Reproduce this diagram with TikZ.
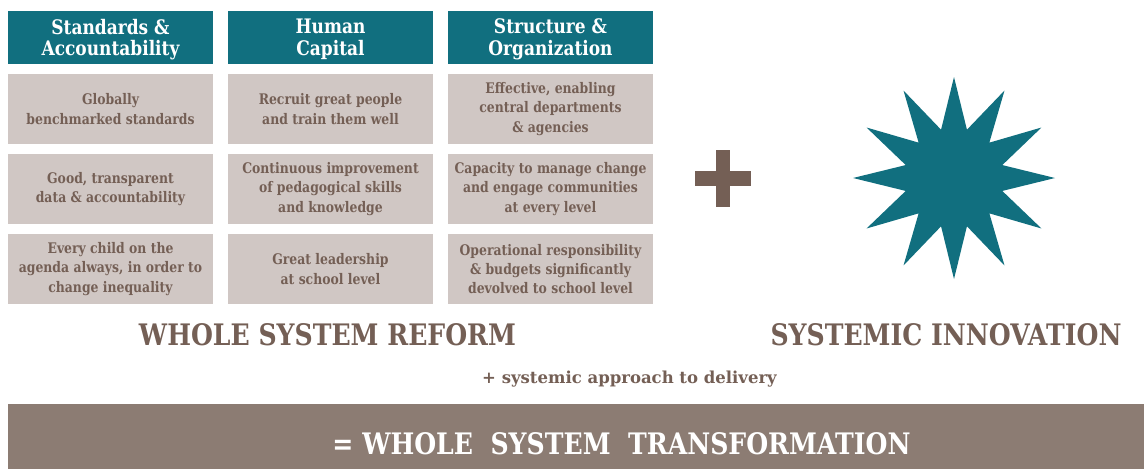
\documentclass[tikz,border=0pt]{standalone}
\usepackage{fontspec}
\setmainfont{DejaVu Serif}[FakeStretch=0.85]
\newfontfamily\widefont{DejaVu Serif}
\definecolor{teal1}{HTML}{116F7F}
\definecolor{boxgray}{HTML}{D0C7C4}
\definecolor{brown1}{HTML}{745F55}
\definecolor{band}{HTML}{8C7C73}
\tikzset{
  headbox/.style={fill=teal1, minimum width=205pt, minimum height=53pt, inner sep=0pt},
  headtext/.style={text=white, inner sep=0pt, align=center,
    font=\bfseries\fontsize{20}{21.7}\selectfont},
  item/.style={fill=boxgray, text=brown1, minimum width=205pt, minimum height=70pt, inner sep=0pt, align=center,
    font=\bfseries\fontsize{14.6}{19.3}\selectfont},
  title/.style={text=brown1, inner sep=0pt, font=\bfseries\fontsize{29.6}{34}\selectfont},
  sub/.style={text=brown1, inner sep=0pt, font=\widefont\bfseries\fontsize{16.5}{19}\selectfont},
}
\begin{document}
\begin{tikzpicture}[x=1pt,y=-1pt]
\useasboundingbox (0,0) rectangle (1144,469);
% headers
\node[headbox] (h1) at (110.5,37.5) {};
\node[headbox] (h2) at (330.5,37.5) {};
\node[headbox] (h3) at (550.5,37.5) {};
\node[headtext] (t1) at ([yshift=-2pt]h1.center) {Standards \&\\Accountability};
\node[headtext] (t2) at ([yshift=-2pt]h2.center) {Human\\Capital};
\node[headtext] (t3) at ([yshift=-2pt]h3.center) {Structure \&\\Organization};
% column 1
\node[item] (a1) at (110.5,109) {Globally\\benchmarked standards};
\node[item] (a2) at (110.5,189) {Good, transparent\\data \& accountability};
\node[item] (a3) at (110.5,269) {Every child on the\\agenda always, in order to\\change inequality};
% column 2
\node[item] (b1) at (330.5,109) {Recruit great people\\and train them well};
\node[item] (b2) at (330.5,189) {Continuous improvement\\of pedagogical skills\\and knowledge};
\node[item] (b3) at (330.5,269) {Great leadership\\at school level};
% column 3
\node[item] (c1) at (550.5,109) {Effective, enabling\\central departments\\\& agencies};
\node[item] (c2) at (550.5,189) {Capacity to manage change\\and engage communities\\at every level};
\node[item] (c3) at (550.5,269) {Operational responsibility\\\& budgets significantly\\devolved to school level};
% plus sign
\fill[brown1] (695,171) rectangle (751,186);
\fill[brown1] (716,150) rectangle (730,207);
% star
\coordinate (star) at (954,178);
\fill[teal1] plot[samples at={0,...,23}, variable=\k]
  ({954+(mod(\k,2)==0 ? 101 : 50)*cos(90+15*\k)}, {178-(mod(\k,2)==0 ? 101 : 50)*sin(90+15*\k)}) -- cycle;
% titles
\node[title] (wsr) at (327.5,335) {WHOLE SYSTEM REFORM};
\node[title] (si) at (946,335) {SYSTEMIC INNOVATION};
\node[sub] (sub) at (629.5,379) {+ systemic approach to delivery};
% bottom band
\fill[band] (8,404) rectangle (1144,469);
\node[title, text=white] (wst) at (621.5,444) {= WHOLE\ \ SYSTEM\ \ TRANSFORMATION};
\end{tikzpicture}
\end{document}
